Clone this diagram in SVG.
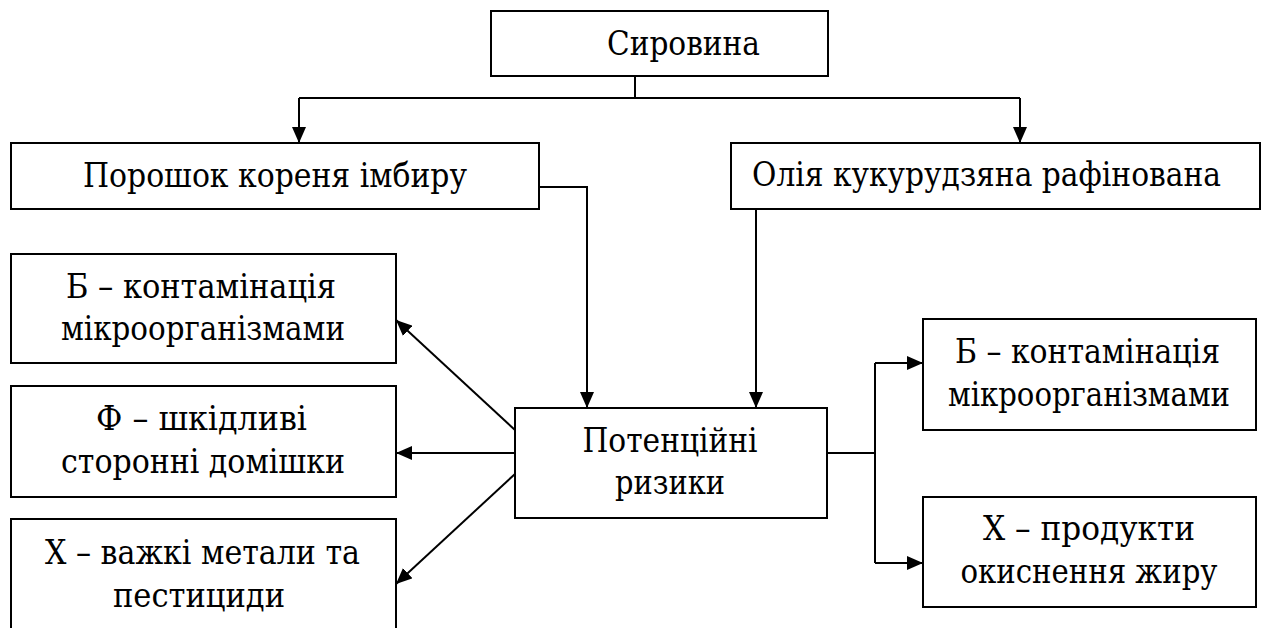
<svg xmlns="http://www.w3.org/2000/svg" width="1267" height="628" viewBox="0 0 1267 628">
<style>
.box{fill:#fff;stroke:#000;stroke-width:2}
.t{font-family:"DejaVu Serif","Liberation Serif",serif;font-stretch:condensed;font-size:34px;fill:#000}
.c{text-anchor:middle}
.ln{fill:none;stroke:#000;stroke-width:2}
</style>
<defs>
<marker id="ah" markerUnits="userSpaceOnUse" markerWidth="16" markerHeight="14" refX="16" refY="7" orient="auto">
<path d="M0,0 L16,7 L0,14 z" fill="#000"/>
</marker>
</defs>
<rect width="1267" height="628" fill="#fff"/>
<g id="connectors">
<path class="ln" d="M635,76 V98"/>
<path class="ln" d="M299,98 H1020"/>
<path class="ln" d="M299,98 V143" marker-end="url(#ah)"/>
<path class="ln" d="M1020,98 V143" marker-end="url(#ah)"/>
<path class="ln" d="M539,187 H587 V408" marker-end="url(#ah)"/>
<path class="ln" d="M756,208 V408" marker-end="url(#ah)"/>
<path class="ln" d="M515,430 L396,320" marker-end="url(#ah)"/>
<path class="ln" d="M515,453 H396" marker-end="url(#ah)"/>
<path class="ln" d="M515,474 L396,584" marker-end="url(#ah)"/>
<path class="ln" d="M827,453 H875"/>
<path class="ln" d="M875,363 V563"/>
<path class="ln" d="M875,363 H923" marker-end="url(#ah)"/>
<path class="ln" d="M875,563 H923" marker-end="url(#ah)"/>
</g>
<g id="syrovyna">
<rect class="box" x="491" y="11" width="337" height="65"/>
<text class="t" x="607" y="55" textLength="153" lengthAdjust="spacingAndGlyphs">Сировина</text>
</g>
<g id="poroshok">
<rect class="box" x="11" y="143" width="528" height="66"/>
<text class="t" x="83" y="187" textLength="384" lengthAdjust="spacingAndGlyphs">Порошок кореня імбиру</text>
</g>
<g id="oliya">
<rect class="box" x="731" y="143" width="529" height="66"/>
<text class="t" x="752" y="186" textLength="469" lengthAdjust="spacingAndGlyphs">Олія кукурудзяна рафінована</text>
</g>
<g id="left-b">
<rect class="box" x="11" y="254" width="385" height="109"/>
<text class="t c" x="201" y="298" textLength="270" lengthAdjust="spacingAndGlyphs">Б – контамінація</text>
<text class="t c" x="203" y="340" textLength="284" lengthAdjust="spacingAndGlyphs">мікроорганізмами</text>
</g>
<g id="left-f">
<rect class="box" x="11" y="386" width="385" height="111"/>
<text class="t c" x="201.5" y="430" textLength="211" lengthAdjust="spacingAndGlyphs">Ф – шкідливі</text>
<text class="t c" x="203" y="473" textLength="284" lengthAdjust="spacingAndGlyphs">сторонні домішки</text>
</g>
<g id="left-x">
<rect class="box" x="11" y="519" width="385" height="130"/>
<text class="t c" x="202.5" y="564" textLength="315" lengthAdjust="spacingAndGlyphs">Х – важкі метали та</text>
<text class="t c" x="199" y="607" textLength="172" lengthAdjust="spacingAndGlyphs">пестициди</text>
</g>
<g id="potential">
<rect class="box" x="515" y="408" width="312" height="110"/>
<text class="t c" x="670" y="452" textLength="175" lengthAdjust="spacingAndGlyphs">Потенційні</text>
<text class="t c" x="670" y="494" textLength="110" lengthAdjust="spacingAndGlyphs">ризики</text>
</g>
<g id="right-b">
<rect class="box" x="923" y="319" width="333" height="111"/>
<text class="t c" x="1087.5" y="363" textLength="265" lengthAdjust="spacingAndGlyphs">Б – контамінація</text>
<text class="t c" x="1089" y="406" textLength="282" lengthAdjust="spacingAndGlyphs">мікроорганізмами</text>
</g>
<g id="right-x">
<rect class="box" x="923" y="497" width="333" height="110"/>
<text class="t c" x="1089" y="540" textLength="212" lengthAdjust="spacingAndGlyphs">Х – продукти</text>
<text class="t c" x="1089" y="583" textLength="257" lengthAdjust="spacingAndGlyphs">окиснення жиру</text>
</g>
</svg>
